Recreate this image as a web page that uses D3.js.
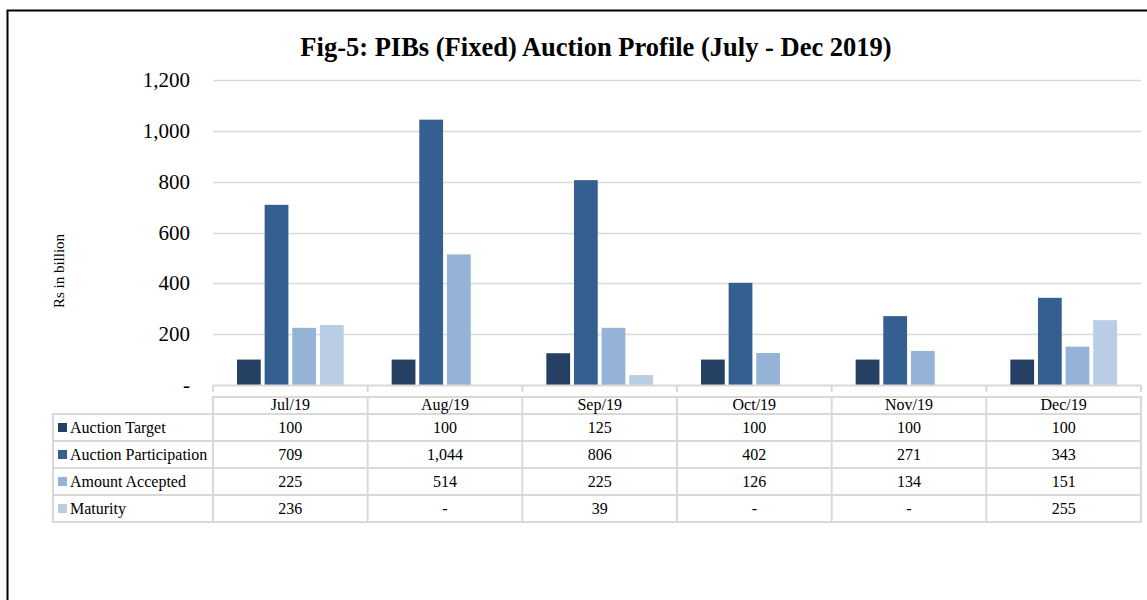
<!DOCTYPE html>
<html><head><meta charset="utf-8">
<script src="https://cdnjs.cloudflare.com/ajax/libs/d3/7.8.5/d3.min.js"></script>
<style>body{margin:0;background:#fff}svg{display:block}</style>
</head><body>
<script>
const categories = ["Jul/19","Aug/19","Sep/19","Oct/19","Nov/19","Dec/19"];
const seriesNames = ["Auction Target","Auction Participation","Amount Accepted","Maturity"];
const auctionTarget = [100,100,125,100,100,100];
const auctionParticipation = [709,1044,806,402,271,343];
const amountAccepted = [225,514,225,126,134,151];
const maturity = [236,0,39,0,0,255];
const colors = ["#264063","#365F91","#95B3D7","#B9CDE5"];
const yTicks = [0,200,400,600,800,1000,1200];
const chartTitle = "Fig-5: PIBs (Fixed) Auction Profile (July - Dec 2019)";
const yLabel = "Rs in billion";

const series = [auctionTarget, auctionParticipation, amountAccepted, maturity];
const W = 1147, H = 600;
const svg = d3.select("body").append("svg").attr("width", W).attr("height", H);
const font = "'Liberation Serif','Times New Roman',serif";

// outer frame
svg.append("path").attr("d", `M7.5,${H} L7.5,10.5 L${W},10.5`).attr("fill","none").attr("stroke","#000").attr("stroke-width",2);

const pLeft = 213, pRight = 1141, pTop = 80, pBottom = 385;
const x = d3.scaleBand().domain(categories).range([pLeft, pRight]);
const y = d3.scaleLinear().domain([0,1200]).range([pBottom, pTop]);
const inner = d3.scaleBand().domain(d3.range(4)).range([24, x.bandwidth()-24]).paddingInner(0.14);

// grid
svg.append("g").selectAll("line").data(yTicks.filter(d=>d>0)).join("line")
  .attr("x1", pLeft).attr("x2", pRight).attr("y1", d=>Math.round(y(d))+0.5).attr("y2", d=>Math.round(y(d))+0.5)
  .attr("stroke","#D9D9D9").attr("stroke-width",1.5);

// y tick labels
svg.append("g").selectAll("text").data(yTicks).join("text")
  .attr("x", 190).attr("y", d=>y(d)+7).attr("text-anchor","end")
  .attr("font-family", font).attr("font-size", 21).attr("fill","#000")
  .text(d => d===0 ? "-" : d3.format(",")(d));

// bars
const g = svg.append("g");
series.forEach((vals, si) => {
  g.selectAll(null).data(vals.map((v,i)=>({v, c:categories[i]}))).join("rect")
    .attr("x", d => x(d.c) + inner(si))
    .attr("width", inner.bandwidth())
    .attr("y", d => y(d.v))
    .attr("height", d => pBottom - y(d.v))
    .attr("fill", colors[si]);
});

// x axis line + ticks
svg.append("line").attr("x1", pLeft).attr("x2", pRight).attr("y1", pBottom+0.5).attr("y2", pBottom+0.5).attr("stroke","#D9D9D9").attr("stroke-width",2);
svg.append("g").selectAll("line").data(categories.map(c=>x(c)).concat([pRight])).join("line")
  .attr("x1", d=>d).attr("x2", d=>d).attr("y1", pBottom).attr("y2", pBottom+7)
  .attr("stroke","#D9D9D9").attr("stroke-width",2);

// title
svg.append("text").attr("x", 596).attr("y", 56).attr("text-anchor","middle")
  .attr("font-family", font).attr("font-weight","bold").attr("font-size", 26.5).text(chartTitle);

// y label
svg.append("text").attr("transform","translate(64,271) rotate(-90)").attr("text-anchor","middle")
  .attr("font-family", font).attr("font-size", 15).text(yLabel);

// data table
const tLeft = 53, hTop = 397, hBot = 414, rowH = 27;
const tg = svg.append("g");
const stroke = "#D9D9D9";
tg.append("rect").attr("x", pLeft).attr("y", hTop).attr("width", pRight-pLeft).attr("height", hBot-hTop).attr("fill","none").attr("stroke",stroke).attr("stroke-width",2);
tg.append("rect").attr("x", tLeft).attr("y", hBot).attr("width", pRight-tLeft).attr("height", rowH*4).attr("fill","none").attr("stroke",stroke).attr("stroke-width",2);
tg.selectAll(".hl").data([1,2,3]).join("line").attr("x1", tLeft).attr("x2", pRight)
  .attr("y1", d=>hBot+d*rowH).attr("y2", d=>hBot+d*rowH).attr("stroke",stroke).attr("stroke-width",2);
tg.selectAll(".vl").data(categories.map(c=>x(c)).slice(1)).join("line").attr("x1", d=>d).attr("x2", d=>d)
  .attr("y1", hTop).attr("y2", hBot+rowH*4).attr("stroke",stroke).attr("stroke-width",2);
tg.append("line").attr("x1", pLeft).attr("x2", pLeft).attr("y1", hTop).attr("y2", hBot+rowH*4).attr("stroke",stroke).attr("stroke-width",2);
tg.selectAll(".hd").data(categories).join("text")
  .attr("x", d=>x(d)+x.bandwidth()/2).attr("y", 410).attr("text-anchor","middle")
  .attr("font-family", font).attr("font-size", 16).text(d=>d);
series.forEach((vals, si) => {
  const cy = hBot + si*rowH + rowH/2;
  tg.append("rect").attr("x", 58).attr("y", cy-4.5).attr("width", 9).attr("height", 9).attr("fill", colors[si]);
  tg.append("text").attr("x", 70).attr("y", cy+5).attr("font-family", font).attr("font-size", 16).text(seriesNames[si]);
  tg.selectAll(null).data(vals.map((v,i)=>({v,c:categories[i]}))).join("text")
    .attr("x", d=>x(d.c)+x.bandwidth()/2).attr("y", cy+5).attr("text-anchor","middle")
    .attr("font-family", font).attr("font-size", 16)
    .text(d => d.v===0 ? "-" : d3.format(",")(d.v));
});
</script>
</body></html>
